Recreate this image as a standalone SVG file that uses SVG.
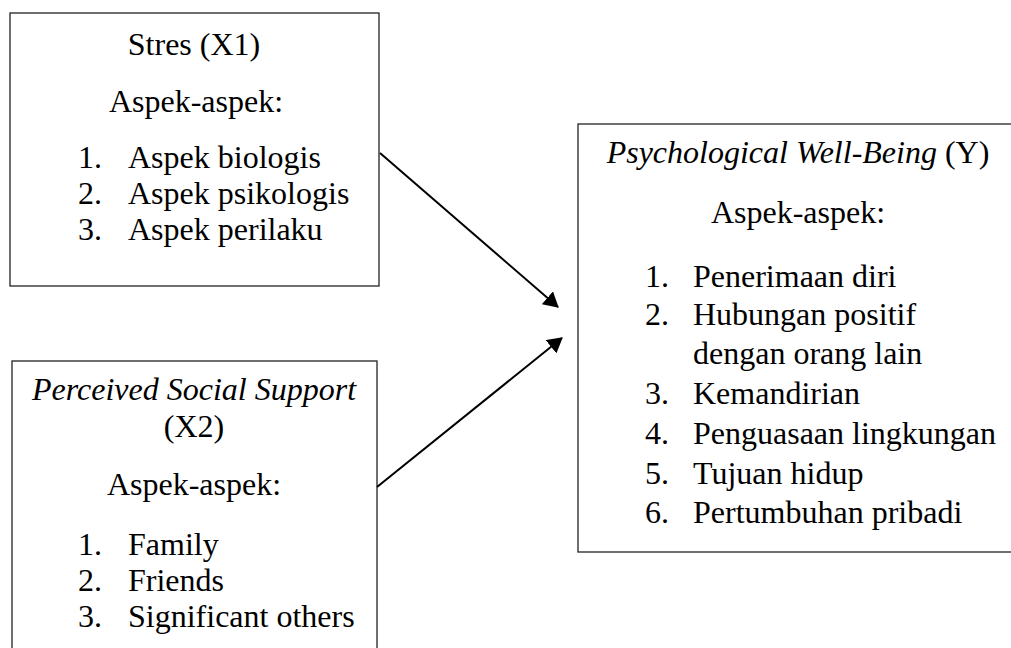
<svg xmlns="http://www.w3.org/2000/svg" width="1011" height="648" viewBox="0 0 1011 648" font-family="'Liberation Serif', 'Times New Roman', Tinos, 'DejaVu Serif', serif">
<style>
.box{fill:#fff;stroke:#222;stroke-width:1.3}
text{font-size:32px;fill:#000}
.c{text-anchor:middle}
.i{font-style:italic}
.conn{stroke:#000;stroke-width:2;fill:none}
</style>
<defs>
<marker id="arr" markerWidth="15" markerHeight="17" refX="14" refY="8.5" orient="auto" markerUnits="userSpaceOnUse" viewBox="0 0 15 17">
<path d="M0,0 L15,8.5 L0,17 z" fill="#000"/>
</marker>
</defs>
<rect width="1011" height="648" fill="#fff"/>
<g id="x1">
<rect class="box" x="10" y="13" width="369" height="273"/>
<text class="c" x="194" y="55">Stres (X1)</text>
<text class="c" x="196" y="112">Aspek-aspek:</text>
<text x="78" y="168">1.</text><text x="128" y="168">Aspek biologis</text>
<text x="78" y="204">2.</text><text x="128" y="204">Aspek psikologis</text>
<text x="78" y="240">3.</text><text x="128" y="240">Aspek perilaku</text>
</g>
<g id="x2">
<rect class="box" x="12" y="361" width="365" height="300"/>
<text class="c i" x="194" y="400">Perceived Social Support</text>
<text class="c" x="194" y="437">(X2)</text>
<text class="c" x="194" y="495">Aspek-aspek:</text>
<text x="78" y="555">1.</text><text x="128" y="555">Family</text>
<text x="78" y="591">2.</text><text x="128" y="591">Friends</text>
<text x="78" y="627">3.</text><text x="128" y="627">Significant others</text>
</g>
<g id="y">
<rect class="box" x="578" y="124" width="440" height="428"/>
<text class="c" x="798" y="163"><tspan class="i">Psychological Well-Being</tspan> (Y)</text>
<text class="c" x="798" y="223">Aspek-aspek:</text>
<text x="645" y="287">1.</text><text x="693" y="287">Penerimaan diri</text>
<text x="645" y="325">2.</text><text x="693" y="325">Hubungan positif</text>
<text x="693" y="364">dengan orang lain</text>
<text x="645" y="404">3.</text><text x="693" y="404">Kemandirian</text>
<text x="645" y="444">4.</text><text x="693" y="444">Penguasaan lingkungan</text>
<text x="645" y="484">5.</text><text x="693" y="484">Tujuan hidup</text>
<text x="645" y="523">6.</text><text x="693" y="523">Pertumbuhan pribadi</text>
</g>
<g id="connectors">
<line class="conn" x1="380" y1="153" x2="558" y2="307" marker-end="url(#arr)"/>
<line class="conn" x1="377" y1="487" x2="562" y2="338" marker-end="url(#arr)"/>
</g>
</svg>
